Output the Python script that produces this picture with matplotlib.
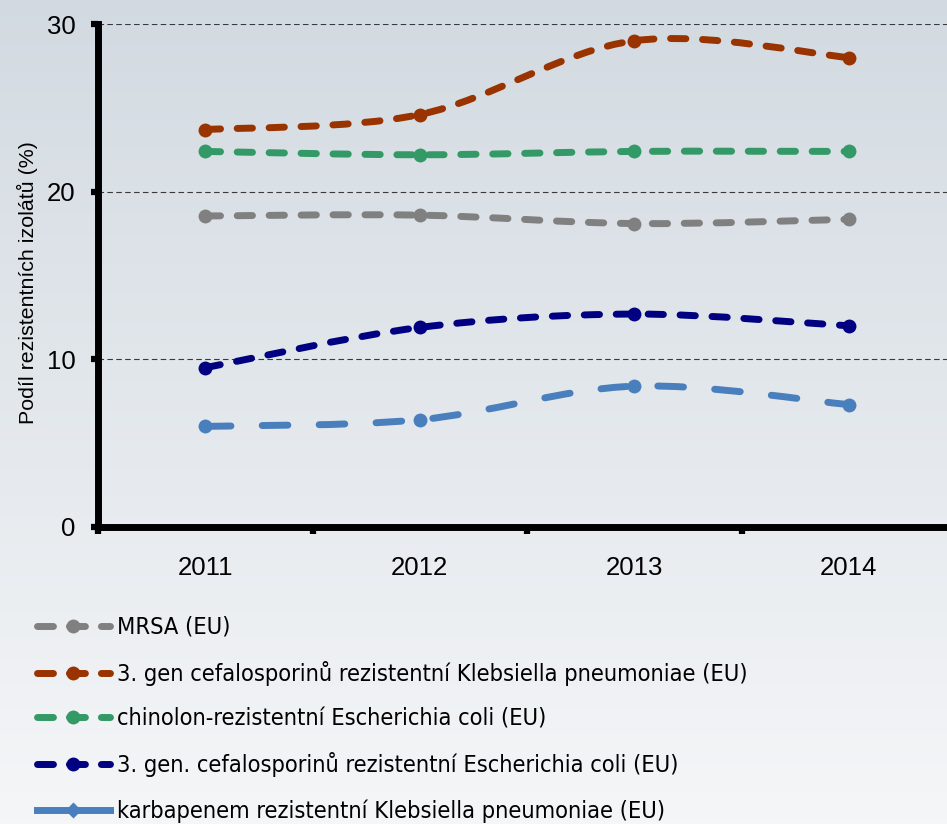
import numpy as np
import matplotlib
matplotlib.use('Agg')
import matplotlib.pyplot as plt
from matplotlib.path import Path
from matplotlib.patches import PathPatch
from matplotlib.lines import Line2D

years = ['2011', '2012', '2013', '2014']
mrsa = [18.55, 18.6, 18.1, 18.35]
kpn_3gc = [23.7, 24.6, 29.0, 28.0]
eco_fq = [22.4, 22.2, 22.4, 22.4]
eco_3gc = [9.5, 11.9, 12.7, 12.0]
kpn_carb = [6.0, 6.4, 8.4, 7.3]

labels = [
    'MRSA (EU)',
    '3. gen cefalosporinů rezistentní Klebsiella pneumoniae (EU)',
    'chinolon-rezistentní Escherichia coli (EU)',
    '3. gen. cefalosporinů rezistentní Escherichia coli (EU)',
    'karbapenem rezistentní Klebsiella pneumoniae (EU)',
]
yticks = [0, 10, 20, 30]
ylabel = 'Podíl rezistentních izolátů (%)'

# (colour, dash pattern in linewidths, legend style)
styles = [
    ('#808080', (2.2, 2.4), 'dash'),
    ('#993300', (2.2, 2.4), 'dash'),
    ('#339966', (2.2, 2.4), 'dash'),
    ('#000080', (2.2, 2.4), 'dash'),
    ('#4a7fbd', (3.7, 4.5), 'solid'),
]
series = [mrsa, kpn_3gc, eco_fq, eco_3gc, kpn_carb]


def smooth_path(xs, ys):
    # Excel-style smoothed line: cubic bezier with catmull-rom tangents
    pts = np.column_stack([xs, ys]).astype(float)
    n = len(pts)
    verts = [pts[0]]
    codes = [Path.MOVETO]
    for i in range(n - 1):
        p0 = pts[i - 1] if i > 0 else pts[i]
        p1, p2 = pts[i], pts[i + 1]
        p3 = pts[i + 2] if i + 2 < n else pts[i + 1]
        c1 = p1 + (p2 - p0) / 6.0
        c2 = p2 - (p3 - p1) / 6.0
        verts += [c1, c2, p2]
        codes += [Path.CURVE4] * 3
    return Path(verts, codes)


W, H = 947, 824
fig = plt.figure(figsize=(W / 100, H / 100), dpi=100)

# background gradient
bg = fig.add_axes([0, 0, 1, 1], zorder=-10)
grad = np.linspace(0, 1, 256).reshape(-1, 1)
top = np.array([0.824, 0.855, 0.882])
bot = np.array([0.960, 0.965, 0.972])
img = top + (bot - top) * grad[:, :, None]
bg.imshow(img, aspect='auto', extent=[0, 1, 0, 1], origin='upper')
bg.axis('off')

ax = fig.add_axes([98 / W, 1 - 527 / H, 858 / W, (527 - 24) / H])
ax.patch.set_alpha(0)
x = np.arange(len(years))

for vals, (col, dash, _) in zip(series, styles):
    pp = PathPatch(smooth_path(x, vals), facecolor='none', edgecolor=col,
                   linewidth=5, linestyle=(0, dash), capstyle='round',
                   joinstyle='round', zorder=3)
    ax.add_patch(pp)
    ax.plot(x, vals, 'o', color=col, markersize=10, zorder=4, mec='none')

ax.set_xlim(-0.5, 3.5)
ax.set_ylim(0, 30)
ax.set_yticks(yticks)
ax.set_xticks(x)
ax.set_xticklabels(years)
ax.set_xticks([-0.5, 0.5, 1.5, 2.5, 3.5], minor=True)

for s in ['top', 'right']:
    ax.spines[s].set_visible(False)
for s in ['left', 'bottom']:
    ax.spines[s].set_linewidth(5)
    ax.spines[s].set_capstyle('projecting')

ax.yaxis.grid(True, color='#3a3a3a', linewidth=0.8, linestyle=(0, (5, 3)), zorder=1)
ax.set_axisbelow(True)

ax.tick_params(axis='y', direction='out', length=5, width=4.5, pad=11, labelsize=18.5)
ax.tick_params(axis='x', which='major', length=0, pad=21, labelsize=18.5)
ax.tick_params(axis='x', which='minor', direction='out', length=5, width=4.5)
for lab in ax.get_xticklabels() + ax.get_yticklabels():
    lab.set_family('Liberation Sans')

fig.text(27 / W, 1 - 283 / H, ylabel, rotation=90, ha='center', va='center',
         fontsize=15.4, family='Liberation Sans')

handles = []
for (col, dash, kind) in styles:
    if kind == 'solid':
        h = Line2D([], [], color=col, linewidth=5, linestyle='-', marker='D',
                   markersize=8, mec='none')
    else:
        h = Line2D([], [], color=col, linewidth=5, linestyle=(0, (2.3, 2.3)),
                   dash_capstyle='round', marker='o', markersize=10, mec='none')
    handles.append(h)

leg = fig.legend(handles, labels, loc='upper left',
                 bbox_to_anchor=(37 / W, 1 - 616 / H), frameon=False,
                 prop=dict(family='DejaVu Sans', size=16.9, stretch='condensed'),
                 handlelength=3.1, handletextpad=0.3, labelspacing=0.93,
                 numpoints=1, borderaxespad=0, borderpad=0)

fig.savefig('out.png', dpi=100)
